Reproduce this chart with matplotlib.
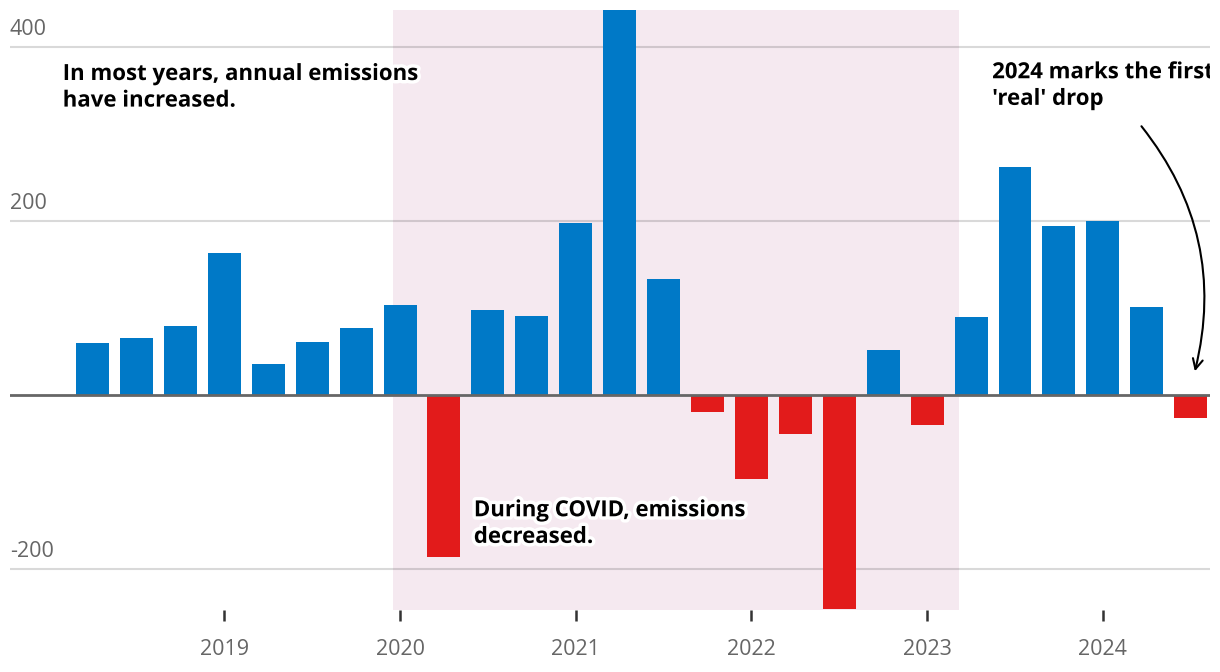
import numpy as np
import matplotlib
matplotlib.use('Agg')
import matplotlib.pyplot as plt
import matplotlib.patheffects as pe
from matplotlib.patches import FancyArrowPatch
import matplotlib.transforms as mtransforms

# quarterly change in emissions, starting 2018 Q2
quarters = [2018.25 + 0.25 * i for i in range(26)]
changes = [60, 65, 79, 163, 36, 61, 77, 103, -186, 97, 91, 197, 443, 133,
           -20, -97, -45, -246, 51, -34, 90, 262, 194, 200, 101, -27]
year_ticks = [2019, 2020, 2021, 2022, 2023, 2024]
y_ticks = [-200, 200, 400]
covid_span = (2019.96, 2023.18)

blue = '#0079C7'
red = '#E21B1B'
shade = '#F5E9F0'
grey = '#666666'

plt.rcParams['font.family'] = ['Open Sans', 'DejaVu Sans']

fig = plt.figure(figsize=(12.2, 6.72), dpi=100)
ax = fig.add_axes([10 / 1220, 62 / 672, 1200 / 1220, 600 / 672])

ax.axvspan(covid_span[0], covid_span[1], color=shade, zorder=0, lw=0)
for v in y_ticks:
    ax.axhline(v, color='black', alpha=0.15, lw=1.5, zorder=1)

colors = [blue if c >= 0 else red for c in changes]
ax.bar(quarters, changes, width=0.1875, color=colors, zorder=2)
ax.axhline(0, color=grey, lw=2, zorder=3)

ax.set_xlim(2017.78, 2024.61)
ax.set_ylim(-247, 442)

for s in ax.spines.values():
    s.set_visible(False)
ax.set_yticks([])
ax.set_xticks(year_ticks)
ax.set_xticklabels([str(y) for y in year_ticks])
ax.tick_params(axis='x', length=8, width=1.8, color='#333333', pad=13,
               labelsize=15.5, labelcolor=grey)

trans = mtransforms.blended_transform_factory(ax.transAxes, ax.transData)
for v in y_ticks:
    ax.text(0, v + 8, str(v), transform=trans, fontsize=15.5, color=grey,
            ha='left', va='bottom')

halo = [pe.withStroke(linewidth=5, foreground='white')]
txt_kw = dict(fontsize=16, fontweight='bold', color='black', va='top',
              ha='left', linespacing=1.35, path_effects=halo, zorder=5)
ax.text(2018.08, 380, 'In most years, annual emissions\nhave increased.', **txt_kw)
ax.text(2020.42, -121, 'During COVID, emissions\ndecreased.', **txt_kw)
ax.text(2023.37, 382, "2024 marks the first\n'real' drop", clip_on=True, **txt_kw)

arrow = FancyArrowPatch((2024.21, 311), (2024.52, 24),
                        connectionstyle='arc3,rad=-0.25', arrowstyle='->',
                        mutation_scale=18, lw=1.5, color='black', zorder=5)
ax.add_patch(arrow)

fig.savefig('out.png', dpi=100)
